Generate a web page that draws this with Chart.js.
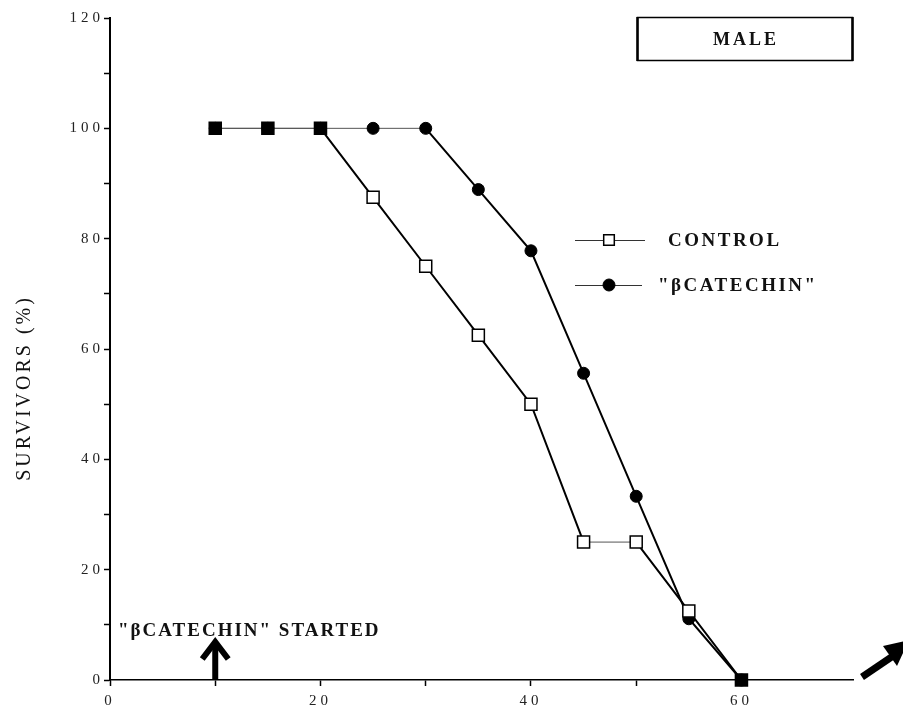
<!DOCTYPE html>
<html>
<head>
<meta charset="utf-8">
<script src="https://cdn.jsdelivr.net/npm/chart.js@4.4.1/dist/chart.umd.min.js"></script>
<style>
  html, body { margin: 0; padding: 0; background: #fff; }
  canvas { display: block; }
</style>
</head>
<body>
<canvas id="chart" width="903" height="714"></canvas>
<script>
// Survival of male flies, day by day
const days = [10, 15, 20, 25, 30, 35, 40, 45, 50, 55, 60];
const controlSurvivors = [100, 100, 100, 87.5, 75, 62.5, 50, 25, 25, 12.5, 0];
const catechinSurvivors = [100, 100, 100, 100, 100, 88.9, 77.8, 55.6, 33.3, 11.1, 0];
const seriesLabels = ['CONTROL', '"\u03B2CATECHIN"'];
const xTickLabels = [0, 20, 40, 60];
const yTickLabels = [0, 20, 40, 60, 80, 100, 120];
const panelTitle = 'MALE';
const yAxisTitle = 'SURVIVORS (%)';
const startNote = '"\u03B2CATECHIN" STARTED';
const startDay = 10;

const serif = "'Liberation Serif', 'Times New Roman', serif";

const toPoints = (vals) => days.map((d, i) => ({ x: d, y: vals[i] }));

// flat stretches are drawn with a thin grey rule, drops with a heavier black one
const segStyle = {
  borderWidth: (c) => (c.p0.parsed.y === c.p1.parsed.y ? 1 : 2),
  borderColor: (c) => (c.p0.parsed.y === c.p1.parsed.y ? '#555' : '#000')
};

// tick labels are widely letter-spaced
const spacingPlugin = {
  id: 'tickSpacing',
  beforeDraw(chart) { chart.ctx.letterSpacing = '4px'; },
  beforeDatasetsDraw(chart) { chart.ctx.letterSpacing = '0px'; }
};

function arrowUp(ctx, px, yBase, yTip) {
  ctx.save();
  ctx.strokeStyle = '#000';
  ctx.lineWidth = 6;
  ctx.lineCap = 'butt';
  ctx.beginPath();
  ctx.moveTo(px, yBase);
  ctx.lineTo(px, yTip + 4);
  ctx.stroke();
  ctx.lineJoin = 'miter';
  ctx.beginPath();
  ctx.moveTo(px - 13, yTip + 20);
  ctx.lineTo(px, yTip + 3);
  ctx.lineTo(px + 13, yTip + 20);
  ctx.stroke();
  ctx.restore();
}

const notesPlugin = {
  id: 'notes',
  afterDraw(chart) {
    const { ctx, chartArea, scales } = chart;
    const xs = scales.x, ys = scales.y;
    ctx.save();
    ctx.fillStyle = '#111';

    // y-axis title
    ctx.save();
    ctx.font = `20px ${serif}`;
    ctx.letterSpacing = '3px';
    ctx.translate(chartArea.left - 85, 388);
    ctx.rotate(-Math.PI / 2);
    ctx.textAlign = 'center';
    ctx.textBaseline = 'middle';
    ctx.fillStyle = '#111';
    ctx.fillText(yAxisTitle, 0, 0);
    ctx.restore();

    // panel label box
    ctx.save();
    ctx.strokeStyle = '#000';
    ctx.lineWidth = 1.5;
    ctx.strokeRect(637.5, 17.5, 215, 43);
    ctx.lineWidth = 2.5;
    ctx.beginPath();
    ctx.moveTo(637.5, 17); ctx.lineTo(637.5, 61);
    ctx.moveTo(852.5, 17); ctx.lineTo(852.5, 61);
    ctx.stroke();
    ctx.font = `bold 18px ${serif}`;
    ctx.letterSpacing = '3px';
    ctx.textAlign = 'center';
    ctx.textBaseline = 'middle';
    ctx.fillText(panelTitle, 746, 40);
    ctx.restore();

    // legend: line - marker - line, then the label
    const rows = [
      { ds: 0, y: 240, l0: 575, mx: 609, l1: 645, tx: 668 },
      { ds: 1, y: 285, l0: 575, mx: 609, l1: 642, tx: 658 }
    ];
    rows.forEach((r) => {
      const ds = chart.data.datasets[r.ds];
      ctx.save();
      ctx.strokeStyle = '#333';
      ctx.lineWidth = 1;
      ctx.beginPath();
      ctx.moveTo(r.l0, r.y + 0.5);
      ctx.lineTo(r.l1, r.y + 0.5);
      ctx.stroke();
      ctx.fillStyle = ds.legendFill;
      ctx.strokeStyle = '#000';
      ctx.lineWidth = ds.pointBorderWidth;
      Chart.helpers.drawPoint(ctx, {
        pointStyle: ds.pointStyle,
        radius: ds.pointStyle === 'rect' ? 7.5 : ds.pointRadius,
        rotation: 0,
        borderWidth: ds.pointBorderWidth
      }, r.mx, r.y);
      ctx.font = `bold 19px ${serif}`;
      ctx.letterSpacing = '2.5px';
      ctx.fillStyle = '#111';
      ctx.textAlign = 'left';
      ctx.textBaseline = 'middle';
      ctx.fillText(ds.label, r.tx, r.y + 1);
      ctx.restore();
    });

    // start of treatment note with arrow
    ctx.save();
    ctx.font = `bold 19px ${serif}`;
    ctx.letterSpacing = '2px';
    ctx.textAlign = 'left';
    ctx.textBaseline = 'middle';
    ctx.fillText(startNote, chartArea.left + 8, 631);
    ctx.restore();
    const ax = xs.getPixelForValue(startDay);
    arrowUp(ctx, ax, ys.getPixelForValue(0) - 1, 639);

    // arrow off the end of the time axis
    ctx.save();
    ctx.strokeStyle = '#000';
    ctx.fillStyle = '#000';
    ctx.lineWidth = 7;
    ctx.beginPath();
    ctx.moveTo(chartArea.right + 9, 677);
    ctx.lineTo(chartArea.right + 40, 656);
    ctx.stroke();
    ctx.beginPath();
    ctx.moveTo(chartArea.right + 30, 646);
    ctx.lineTo(chartArea.right + 56, 640);
    ctx.lineTo(chartArea.right + 44, 666);
    ctx.closePath();
    ctx.fill();
    ctx.restore();

    ctx.restore();
  }
};

const tickFont = { family: serif, size: 15 };

new Chart(document.getElementById('chart'), {
  type: 'line',
  data: {
    datasets: [
      {
        label: seriesLabels[0],
        data: toPoints(controlSurvivors),
        order: 0,
        clip: false,
        pointStyle: 'rect',
        pointRadius: 8.5,
        pointHoverRadius: 8.5,
        pointBorderWidth: 1.5,
        pointBorderColor: '#000',
        legendFill: '#fff',
        pointBackgroundColor: (c) =>
          catechinSurvivors[c.dataIndex] === controlSurvivors[c.dataIndex] ? '#000' : '#fff',
        borderColor: '#000',
        borderWidth: 2,
        segment: segStyle,
        fill: false,
        tension: 0
      },
      {
        label: seriesLabels[1],
        data: toPoints(catechinSurvivors),
        order: 1,
        clip: false,
        pointStyle: 'circle',
        pointRadius: 6,
        pointHoverRadius: 6,
        pointBorderWidth: 1,
        pointBorderColor: '#000',
        pointBackgroundColor: '#000',
        legendFill: '#000',
        borderColor: '#000',
        borderWidth: 2,
        segment: segStyle,
        fill: false,
        tension: 0
      }
    ]
  },
  options: {
    responsive: false,
    animation: false,
    events: [],
    layout: { padding: { top: 18, right: 50, left: 0, bottom: 0 } },
    plugins: {
      legend: { display: false },
      tooltip: { enabled: false },
      title: { display: false }
    },
    scales: {
      x: {
        type: 'linear',
        min: 0,
        max: 70.6,
        afterBuildTicks: (s) => { s.ticks = s.ticks.filter((t) => t.value % 10 === 0); },
        afterFit: (s) => { s.height = 34; },
        ticks: {
          stepSize: 10,
          autoSkip: false,
          maxRotation: 0,
          padding: 6,
          color: '#222',
          font: tickFont,
          callback: (v) => (xTickLabels.includes(v) ? String(v) : '')
        },
        grid: {
          drawOnChartArea: false,
          drawTicks: true,
          tickLength: 6,
          tickColor: '#000',
          tickWidth: 1.5
        },
        border: { display: true, color: '#000', width: 1.5 }
      },
      y: {
        min: 0,
        max: 120,
        afterFit: (s) => { s.width = 110; },
        ticks: {
          stepSize: 10,
          autoSkip: false,
          padding: 0,
          color: '#222',
          font: tickFont,
          callback: (v) => (yTickLabels.includes(v) ? String(v) : '')
        },
        grid: {
          drawOnChartArea: false,
          drawTicks: true,
          tickLength: 6,
          tickColor: '#000',
          tickWidth: 1.5
        },
        border: { display: true, color: '#000', width: 2 }
      }
    }
  },
  plugins: [spacingPlugin, notesPlugin]
});
</script>
</body>
</html>
